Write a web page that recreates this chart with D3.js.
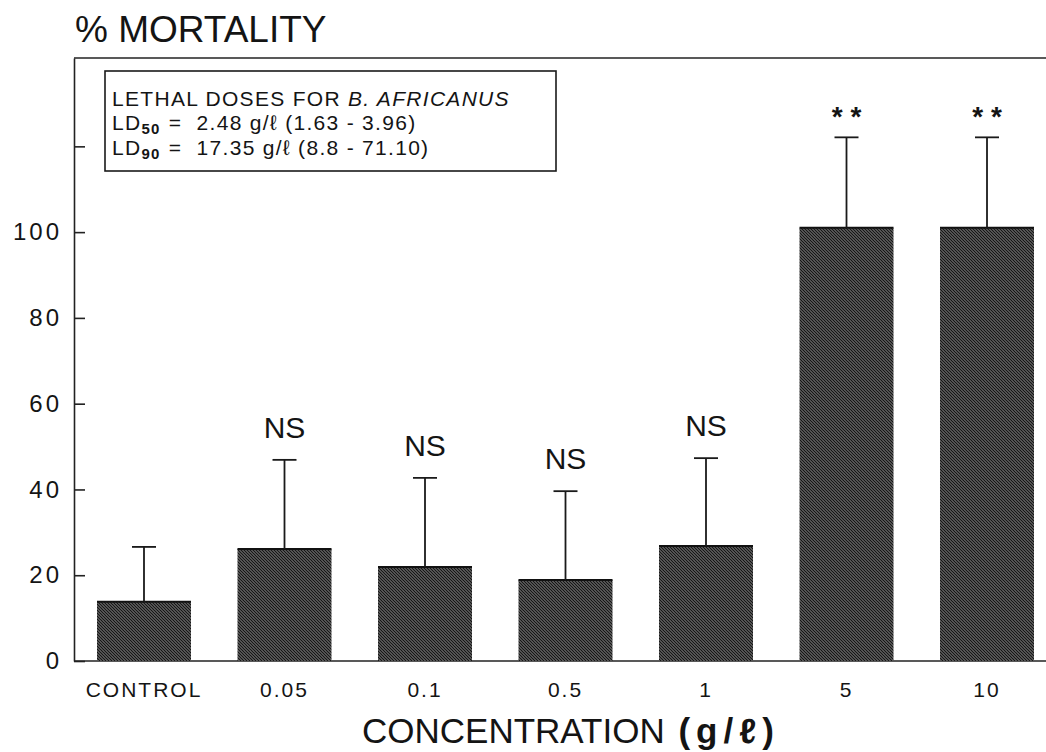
<!DOCTYPE html>
<html><head><meta charset="utf-8">
<script src="https://cdn.jsdelivr.net/npm/d3@7"></script>
<style>
html,body{margin:0;padding:0;background:#fff;}
svg{display:block;}
text{font-family:"Liberation Sans",Arial,Helvetica,sans-serif;fill:#141414;white-space:pre;}
</style></head><body>
<svg id="chart" width="1046" height="752"></svg>
<script>
// ---- data ----
const categories = ["CONTROL", "0.05", "0.1", "0.5", "1", "5", "10"];
const means      = [13.8, 26.1, 21.9, 18.9, 26.8, 101, 101];
const errUpper   = [26.6, 46.9, 42.7, 39.6, 47.3, 122.1, 122.1];
const marks      = ["", "NS", "NS", "NS", "NS", "* *", "* *"];
const yTicks      = [0, 20, 40, 60, 80, 100, 120];
const yTickLabels = ["0", "20", "40", "60", "80", "100", ""];
const yAxisTop = 140.6;
const titleText = "% MORTALITY";
const xTitleText = "CONCENTRATION ";
const xTitleUnit = "(g/ℓ)";
const legendTitle = ["LETHAL DOSES FOR ", "B. AFRICANUS"];
const legendDoses = [
  {sub: "50", value: "  2.48 g/ℓ (1.63 - 3.96)"},
  {sub: "90", value: "  17.35 g/ℓ (8.8 - 71.10)"}
];

// ---- drawing ----
const svg = d3.select("#chart");
svg.append("rect").attr("width", 1046).attr("height", 752).attr("fill", "#fff");

const defs = svg.append("defs");
const pat = defs.append("pattern").attr("id", "hatch")
  .attr("patternUnits", "userSpaceOnUse").attr("width", 3).attr("height", 3);
pat.append("rect").attr("width", 3).attr("height", 3).attr("fill", "#858585");
pat.append("path").attr("d", "M0,0 L3,3 M-1,2 L1,4 M2,-1 L4,1")
  .attr("stroke", "#161616").attr("stroke-width", 1.3);

const x = d3.scaleBand().domain(categories).range([97, 1034]).paddingInner(0.331).paddingOuter(0);
const y = d3.scaleLinear().domain([0, yAxisTop]).range([661, 58]);

const axisX0 = 74, plotRight = 1046;

// frame top line
svg.append("line").attr("x1", axisX0).attr("x2", plotRight)
  .attr("y1", y(yAxisTop)).attr("y2", y(yAxisTop))
  .attr("stroke", "#222").attr("stroke-width", 1.6);

// y axis
const yAxis = d3.axisLeft(y).tickValues(yTicks)
  .tickFormat(d => yTickLabels[yTicks.indexOf(d)])
  .tickSizeInner(-11).tickSizeOuter(0).tickPadding(12);
const gy = svg.append("g").attr("transform", `translate(${axisX0},0)`).call(yAxis);
gy.select(".domain").attr("stroke", "#222").attr("stroke-width", 1.6);
gy.selectAll(".tick line").attr("stroke", "#222").attr("stroke-width", 1.6);
gy.selectAll(".tick text").attr("font-size", 24).attr("letter-spacing", "3px").attr("fill", "#1a1a1a");

// baseline
svg.append("line").attr("x1", axisX0).attr("x2", plotRight)
  .attr("y1", y(0)).attr("y2", y(0))
  .attr("stroke", "#222").attr("stroke-width", 1.6);

// x axis labels
const xAxis = d3.axisBottom(x).tickSize(0).tickPadding(21);
const gx = svg.append("g").attr("transform", `translate(0,${y(0)})`).call(xAxis);
gx.select(".domain").remove();
gx.selectAll(".tick text").attr("font-size", 21).attr("letter-spacing", "2px").attr("fill", "#1a1a1a");

// bars
const data = categories.map((c, i) => ({c, m: means[i], e: errUpper[i], mark: marks[i]}));
const bars = svg.append("g");
bars.selectAll("rect").data(data).join("rect")
  .attr("x", d => x(d.c)).attr("width", x.bandwidth())
  .attr("y", d => y(d.m)).attr("height", d => y(0) - y(d.m))
  .attr("fill", "url(#hatch)");
bars.selectAll("line.top").data(data).join("line").attr("class", "top")
  .attr("x1", d => x(d.c)).attr("x2", d => x(d.c) + x.bandwidth())
  .attr("y1", d => y(d.m)).attr("y2", d => y(d.m))
  .attr("stroke", "#111").attr("stroke-width", 2);

// error bars
const eb = svg.append("g").attr("stroke", "#1a1a1a").attr("stroke-width", 1.8);
eb.selectAll("line.v").data(data).join("line").attr("class", "v")
  .attr("x1", d => x(d.c) + x.bandwidth() / 2).attr("x2", d => x(d.c) + x.bandwidth() / 2)
  .attr("y1", d => y(d.m)).attr("y2", d => y(d.e));
eb.selectAll("line.cap").data(data).join("line").attr("class", "cap")
  .attr("x1", d => x(d.c) + x.bandwidth() / 2 - 12).attr("x2", d => x(d.c) + x.bandwidth() / 2 + 12)
  .attr("y1", d => y(d.e)).attr("y2", d => y(d.e));

// significance marks
svg.append("g").selectAll("text").data(data.filter(d => d.mark)).join("text")
  .attr("x", d => x(d.c) + x.bandwidth() / 2)
  .attr("y", d => y(d.e) - (d.mark === "NS" ? 22 : 11))
  .attr("text-anchor", "middle")
  .attr("font-size", d => d.mark === "NS" ? 30 : 28)
  .attr("font-weight", d => d.mark === "NS" ? "normal" : "bold")
  .text(d => d.mark);

// legend box
svg.append("rect").attr("x", 105).attr("y", 71).attr("width", 451).attr("height", 100)
  .attr("fill", "#fff").attr("stroke", "#1a1a1a").attr("stroke-width", 1.6);
const lg = svg.append("g").attr("letter-spacing", "1.3px");
const t1 = lg.append("text").attr("x", 112).attr("y", 106).attr("font-size", 21);
t1.append("tspan").text(legendTitle[0]);
t1.append("tspan").attr("font-style", "italic").text(legendTitle[1]);
legendDoses.forEach((d, i) => {
  const t = lg.append("text").attr("x", 112).attr("y", 130 + i * 25).attr("font-size", 21);
  t.append("tspan").text("LD");
  t.append("tspan").attr("font-size", 15).attr("font-weight", "bold").attr("dy", 4).text(d.sub);
  t.append("tspan").attr("dy", -4).attr("dx", 8).text("=");
  t.append("tspan").text(d.value);
});

// titles
svg.append("text").attr("x", 75).attr("y", 42).attr("font-size", 37).text(titleText);
const xt = svg.append("text").attr("x", 362).attr("y", 743).attr("font-size", 35);
xt.append("tspan").text(xTitleText);
xt.append("tspan").attr("dx", 4).attr("font-weight", "bold").attr("letter-spacing", "6px").text(xTitleUnit);
</script>
</body></html>
